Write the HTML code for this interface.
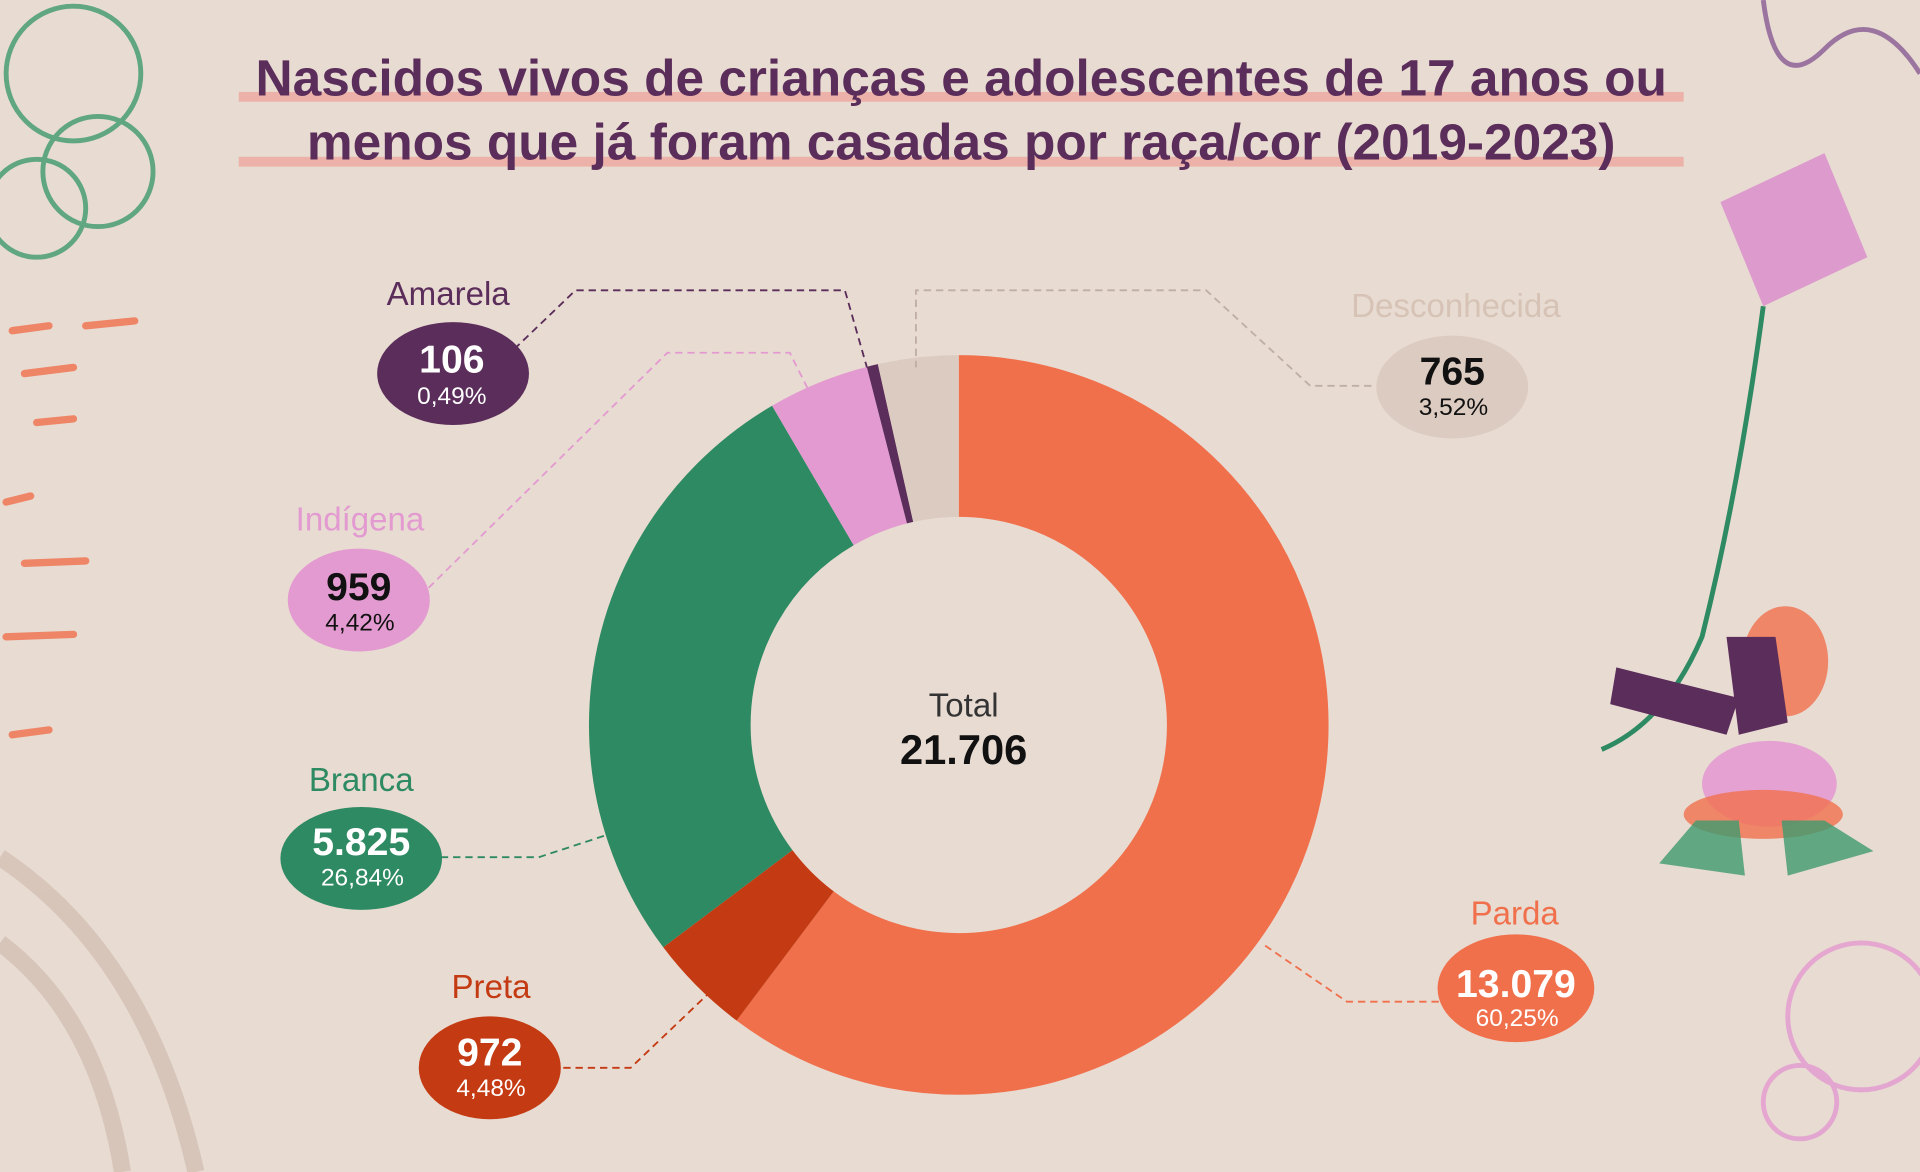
<!DOCTYPE html>
<html><head><meta charset="utf-8"><style>
html,body{margin:0;padding:0;background:#e8dbd2;}
svg{display:block}
text{font-family:"Liberation Sans",sans-serif;}
</style></head><body>
<svg width="1920" height="1172" viewBox="0 0 1568 957" xmlns="http://www.w3.org/2000/svg">
<rect width="1568" height="957" fill="#e8dbd2"/>
<!-- decorations -->
<g fill="none" stroke="#3f9a6e" stroke-width="4" opacity="0.8">
<circle cx="60" cy="60" r="55"/><circle cx="80" cy="140" r="45"/><circle cx="30" cy="170" r="40"/>
</g>
<g stroke="#f0704c" stroke-width="6" stroke-linecap="round" opacity="0.8">
<line x1="10" y1="270" x2="40" y2="266"/><line x1="70" y1="266" x2="110" y2="262"/><line x1="20" y1="305" x2="60" y2="300"/>
<line x1="30" y1="345" x2="60" y2="342"/><line x1="5" y1="410" x2="25" y2="405"/><line x1="20" y1="460" x2="70" y2="458"/>
<line x1="5" y1="520" x2="60" y2="518"/><line x1="10" y1="600" x2="40" y2="596"/>
</g>
<g fill="none" stroke="#cdb8ab" stroke-width="14" opacity="0.6">
<path d="M0 700 Q120 780 160 957"/><path d="M0 770 Q80 830 100 957"/>
</g>
<path d="M1440 0 Q1450 80 1490 40 Q1530 0 1568 60" fill="none" stroke="#7a4a8a" stroke-width="4" opacity="0.7"/>
<g fill="none" stroke="#e39ad0" stroke-width="4" opacity="0.8">
<circle cx="1520" cy="830" r="60"/><circle cx="1470" cy="900" r="30"/>
</g>
<!-- kite -->
<polygon points="1405,165 1490,125 1525,210 1440,250" fill="#d98fcb" opacity="0.85"/>
<path d="M1440,250 Q1420,400 1390,520 Q1360,590 1308,612" fill="none" stroke="#2e8a62" stroke-width="4"/>
<ellipse cx="1458" cy="540" rx="35" ry="45" fill="#f0704c" opacity="0.8"/>
<polygon points="1410,520 1450,520 1460,590 1420,600" fill="#5b2d5a"/>
<polygon points="1320,545 1420,570 1410,600 1315,575" fill="#5b2d5a"/>
<ellipse cx="1445" cy="640" rx="55" ry="35" fill="#e39ad0" opacity="0.9"/>
<ellipse cx="1440" cy="665" rx="65" ry="20" fill="#f0704c" opacity="0.8"/>
<polygon points="1385,670 1420,670 1425,715 1355,705" fill="#3f9a6e" opacity="0.8"/>
<polygon points="1455,670 1490,670 1530,695 1460,715" fill="#3f9a6e" opacity="0.8"/>
<!-- title -->
<rect x="195" y="75" width="1180" height="8" fill="#f08a80" opacity="0.5"/>
<rect x="195" y="128" width="1180" height="8" fill="#f08a80" opacity="0.5"/>
<text x="785" y="78" text-anchor="middle" font-size="42" font-weight="bold" fill="#5b2d5a">Nascidos vivos de crianças e adolescentes de 17 anos ou</text>
<text x="785" y="130" text-anchor="middle" font-size="42" font-weight="bold" fill="#5b2d5a">menos que já foram casadas por raça/cor (2019-2023)</text>
<!-- donut -->
<g transform="rotate(-90 783 592)" fill="none" stroke-width="132">
<circle cx="783" cy="592" r="236" stroke="#f0704c" stroke-dasharray="893.4 1482.8" stroke-dashoffset="0"/>
<circle cx="783" cy="592" r="236" stroke="#c43a12" stroke-dasharray="66.4 1482.8" stroke-dashoffset="-893.4"/>
<circle cx="783" cy="592" r="236" stroke="#2e8a62" stroke-dasharray="398.0 1482.8" stroke-dashoffset="-959.8"/>
<circle cx="783" cy="592" r="236" stroke="#e39ad0" stroke-dasharray="65.5 1482.8" stroke-dashoffset="-1357.8"/>
<circle cx="783" cy="592" r="236" stroke="#5b2d5a" stroke-dasharray="7.3 1482.8" stroke-dashoffset="-1423.3"/>
<circle cx="783" cy="592" r="236" stroke="#dccbc0" stroke-dasharray="52.2 1482.8" stroke-dashoffset="-1430.6"/>
</g>
<text x="787" y="585" text-anchor="middle" font-size="27" fill="#333">Total</text>
<text x="787" y="624" text-anchor="middle" font-size="34" font-weight="bold" fill="#111">21.706</text>
<!-- leaders -->
<g fill="none" stroke-width="1.5" stroke-dasharray="6 4">
<path d="M420 285 L470 237 L690 237 L708 300" stroke="#5b2d5a"/>
<path d="M350 480 L545 288 L645 288 L660 318" stroke="#e39ad0"/>
<path d="M360 700 L440 700 L495 682" stroke="#2e8a62"/>
<path d="M460 872 L515 872 L580 810" stroke="#c43a12"/>
<path d="M1120 315 L1070 315 L985 237 L748 237 L748 300" stroke="#bfaea3"/>
<path d="M1175 818 L1100 818 L1030 770" stroke="#f0704c"/>
</g>
<!-- labels -->
<g text-anchor="middle">
<text x="366" y="249" font-size="27" fill="#5b2d5a">Amarela</text>
<ellipse cx="370" cy="305" rx="62" ry="42" fill="#5b2d5a"/>
<text x="369" y="304" font-size="32" font-weight="bold" fill="#fff">106</text>
<text x="369" y="330" font-size="20" fill="#fff">0,49%</text>

<text x="294" y="433" font-size="27" fill="#e39ad0">Indígena</text>
<ellipse cx="293" cy="490" rx="58" ry="42" fill="#e39ad0"/>
<text x="293" y="490" font-size="32" font-weight="bold" fill="#111">959</text>
<text x="294" y="515" font-size="20" fill="#111">4,42%</text>

<text x="295" y="646" font-size="27" fill="#2e8a62">Branca</text>
<ellipse cx="295" cy="701" rx="66" ry="42" fill="#2e8a62"/>
<text x="295" y="698" font-size="32" font-weight="bold" fill="#fff">5.825</text>
<text x="296" y="723" font-size="20" fill="#fff">26,84%</text>

<text x="401" y="815" font-size="27" fill="#c43a12">Preta</text>
<ellipse cx="400" cy="872" rx="58" ry="42" fill="#c43a12"/>
<text x="400" y="870" font-size="32" font-weight="bold" fill="#fff">972</text>
<text x="401" y="895" font-size="20" fill="#fff">4,48%</text>

<text x="1189" y="259" font-size="27" fill="#d6c3b6">Desconhecida</text>
<ellipse cx="1186" cy="316" rx="62" ry="42" fill="#dccbc0"/>
<text x="1186" y="314" font-size="32" font-weight="bold" fill="#111">765</text>
<text x="1187" y="339" font-size="20" fill="#111">3,52%</text>

<text x="1237" y="755" font-size="27" fill="#f0704c">Parda</text>
<ellipse cx="1238" cy="807" rx="64" ry="44" fill="#f0704c"/>
<text x="1238" y="814" font-size="32" font-weight="bold" fill="#fff">13.079</text>
<text x="1239" y="838" font-size="20" fill="#fff">60,25%</text>
</g>
</svg>
</body></html>
